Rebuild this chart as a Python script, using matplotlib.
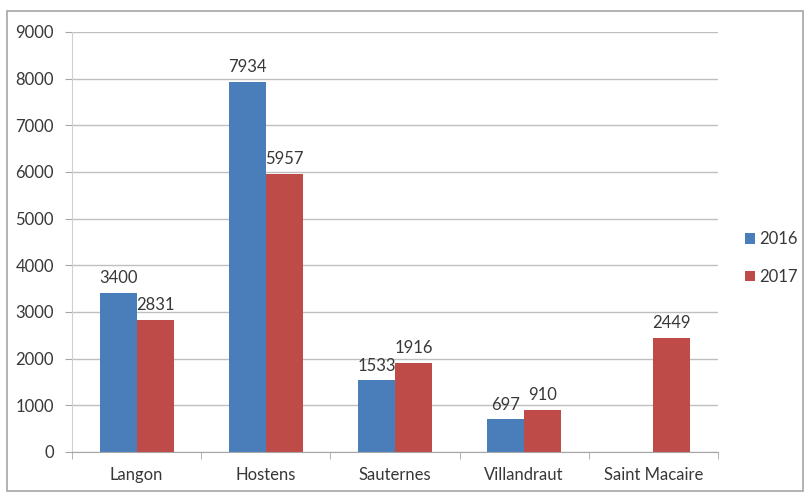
import matplotlib.pyplot as plt
import numpy as np
from matplotlib.patches import Rectangle

categories = ["Langon", "Hostens", "Sauternes", "Villandraut", "Saint Macaire"]
values_2016 = [3400, 7934, 1533, 697, None]
values_2017 = [2831, 5957, 1916, 910, 2449]
series_names = ["2016", "2017"]
yticks = [0, 1000, 2000, 3000, 4000, 5000, 6000, 7000, 8000, 9000]

plt.rcParams["font.family"] = ["Lato", "DejaVu Sans"]
text_color = "#383838"
colors = ["#4A7EBB", "#BE4B48"]
fs = 12

fig = plt.figure(figsize=(8.08, 4.95), dpi=100)
ax = fig.add_axes([72 / 808, 1 - 452 / 495, (718 - 72) / 808, (452 - 32) / 495])

# outer frame like the Excel chart area
fig.patches.append(Rectangle((7 / 808, 4 / 495), 796 / 808, 480 / 495, transform=fig.transFigure,
                             fill=False, edgecolor="#A6A6A6", linewidth=1.2))

x = np.arange(len(categories))
w = 0.286
for i, (vals, name) in enumerate(zip([values_2016, values_2017], series_names)):
    xs = [xi + (i - 0.5) * w for xi, v in zip(x, vals) if v is not None]
    ys = [v for v in vals if v is not None]
    ax.bar(xs, ys, width=w, color=colors[i], label=name, zorder=2)
    for xx, yy in zip(xs, ys):
        ax.annotate(str(yy), (xx, yy), textcoords="offset points", xytext=(0, 5),
                    ha="center", va="bottom", fontsize=fs, color=text_color)

ax.set_xlim(-0.5, len(categories) - 0.5)
ax.set_ylim(0, 9000)
ax.set_yticks(yticks)
ax.set_yticklabels([str(t) for t in yticks], fontsize=fs, color=text_color)
ax.set_xticks(x)
ax.set_xticklabels(categories, fontsize=fs, color=text_color)
ax.tick_params(axis="x", length=0, pad=11)
ax.set_xticks(np.arange(-0.5, len(categories)), minor=True)
ax.tick_params(axis="x", which="minor", length=5, color="#A6A6A6")
ax.tick_params(axis="y", length=5, color="#A6A6A6", pad=8)
ax.yaxis.grid(True, color="#BFBFBF", linewidth=1)
ax.set_axisbelow(True)
for side in ["top", "right"]:
    ax.spines[side].set_visible(False)
ax.spines["left"].set_color("#D0D0D0")
ax.spines["bottom"].set_color("#A6A6A6")

leg = ax.legend(loc="center left", bbox_to_anchor=(1.018, 0.462), frameon=False, fontsize=fs,
                handlelength=0.6, handleheight=0.6, handletextpad=0.25, labelspacing=1.3)
for t in leg.get_texts():
    t.set_color(text_color)

fig.savefig("out.png", dpi=100)
